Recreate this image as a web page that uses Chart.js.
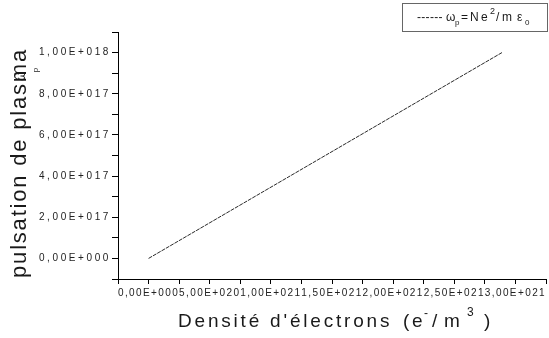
<!DOCTYPE html>
<html>
<head>
<meta charset="utf-8">
<script src="https://cdn.jsdelivr.net/npm/chart.js@4/dist/chart.umd.min.js"></script>
<style>
  html, body { margin: 0; padding: 0; background: #fff; }
  #wrap { width: 549px; height: 338px; position: relative; }
</style>
</head>
<body>
<div id="wrap"><canvas id="c" width="549" height="338"></canvas></div>
<script>
// Electron density N (e-/m^3) and plasma pulsation values
const densities = [0, 2.89e21];
const pulsations = [0, 1.0e18];

// Labelled tick values on each axis
const xTickLabels = [0, 5e20, 1e21, 1.5e21, 2e21, 2.5e21, 3e21];
const yTickLabels = [0, 2e17, 4e17, 6e17, 8e17, 1e18];

// Axis extents and tick steps (minor ticks included)
const xRange = [-2.5e20, 3.25e21];
const yRange = [-1e17, 1.1e18];
const xStep = 2.5e20;
const yStep = 1e17;

const yTitle = 'pulsation de plasma';
const xTitle = "Densité d'électrons";

// "1,00E+018" style formatting
function sci(v) {
  if (Math.abs(v) < 1) return '0,00E+000';
  let e = Math.floor(Math.log10(Math.abs(v)) + 1e-9);
  let m = v / Math.pow(10, e);
  return m.toFixed(2).replace('.', ',') + 'E+' + String(e).padStart(3, '0');
}
function labelFor(list, v, step) {
  return list.some(t => Math.abs(t - v) < step * 0.01) ? sci(v) : '';
}

const FONT = 'Arial, "Liberation Sans", sans-serif';
const labelSpacing = { x: '1.4px', y: '2.6px' };

// Letter-spaced tick labels, one spacing per axis
const spacingPlugin = {
  id: 'spacing',
  afterLayout(chart) {
    for (const id of ['x', 'y']) {
      const scale = chart.scales[id];
      if (!scale || scale._spaced) continue;
      const orig = scale.drawLabels;
      scale.drawLabels = function (area) {
        const ctx = this.ctx;
        const prev = ctx.letterSpacing;
        ctx.letterSpacing = labelSpacing[id];
        orig.call(this, area);
        ctx.letterSpacing = prev;
      };
      scale._spaced = true;
    }
  }
};

// Axis titles and the formula legend box
const annotations = {
  id: 'annotations',
  afterDraw(chart) {
    const ctx = chart.ctx;
    ctx.save();
    ctx.fillStyle = '#1a1a1a';
    ctx.textBaseline = 'alphabetic';

    // Y title (rotated)
    ctx.save();
    ctx.translate(26, 163);
    ctx.rotate(-Math.PI / 2);
    ctx.font = '22px ' + FONT;
    ctx.letterSpacing = '1.8px';
    ctx.textAlign = 'center';
    ctx.fillText(yTitle, 0, 0);
    ctx.restore();
    // stray omega_p overlapping the title
    ctx.save();
    ctx.translate(25, 76);
    ctx.rotate(-Math.PI / 2);
    ctx.font = '12px ' + FONT;
    ctx.textAlign = 'center';
    ctx.fillText('\u03c9', 0, 0);
    ctx.restore();
    ctx.save();
    ctx.translate(38, 70);
    ctx.rotate(-Math.PI / 2);
    ctx.font = '8px ' + FONT;
    ctx.textAlign = 'center';
    ctx.fillText('p', 0, 0);
    ctx.restore();

    // X title
    ctx.font = '19px ' + FONT;
    ctx.letterSpacing = '2.8px';
    ctx.textAlign = 'left';
    ctx.fillText(xTitle, 178, 327);
    ctx.letterSpacing = '0px';
    ctx.fillText('(', 403, 327);
    ctx.fillText('e', 412, 327);
    ctx.fillText('/', 432, 327);
    ctx.fillText('m', 444, 327);
    ctx.fillText(')', 484, 327);
    ctx.font = '12px ' + FONT;
    ctx.fillText('-', 424, 317);
    ctx.fillText('3', 467, 316);

    // Legend box
    ctx.strokeStyle = '#666';
    ctx.lineWidth = 1;
    ctx.strokeRect(402.5, 3.5, 145, 28);
    ctx.font = '12px ' + FONT;
    ctx.letterSpacing = '0.3px';
    ctx.fillText('------', 417, 21);
    ctx.letterSpacing = '0px';
    ctx.fillText('\u03c9', 446, 21);
    ctx.fillText('=', 461, 21);
    ctx.fillText('N', 470, 21);
    ctx.fillText('e', 481, 21);
    ctx.fillText('/', 496, 21);
    ctx.fillText('m', 502, 21);
    ctx.fillText('\u03b5', 517, 21);
    ctx.font = '8px ' + FONT;
    ctx.fillText('p', 455, 25);
    ctx.fillText('0', 525, 25);
    ctx.font = '9px ' + FONT;
    ctx.fillText('2', 490, 14);
    ctx.restore();
  }
};

new Chart(document.getElementById('c'), {
  type: 'line',
  data: {
    datasets: [{
      data: densities.map((x, i) => ({ x, y: pulsations[i] })),
      borderColor: '#2a2a2a',
      borderWidth: 1,
      borderDash: [4, 1],
      pointRadius: 0,
      tension: 0,
      fill: false
    }]
  },
  options: {
    responsive: false,
    animation: false,
    layout: { padding: { top: 32, right: 0, left: 0, bottom: 0 } },
    plugins: { legend: { display: false }, tooltip: { enabled: false } },
    scales: {
      x: {
        type: 'linear',
        min: xRange[0], max: xRange[1],
        afterFit: s => { s.height = 59; },
        border: { display: true, color: '#000', width: 1 },
        grid: { display: true, drawOnChartArea: false, drawTicks: true, tickLength: 5, color: '#000' },
        ticks: {
          stepSize: xStep, autoSkip: false, maxRotation: 0, minRotation: 0,
          padding: 3, color: '#222',
          font: { family: FONT, size: 10 },
          callback: v => labelFor(xTickLabels, v, xStep)
        }
      },
      y: {
        type: 'linear',
        min: yRange[0], max: yRange[1],
        afterFit: s => { s.width = 118; },
        border: { display: true, color: '#000', width: 1 },
        grid: { display: true, drawOnChartArea: false, drawTicks: true, tickLength: 6, color: '#000' },
        ticks: {
          stepSize: yStep, autoSkip: false, padding: 1, color: '#222',
          font: { family: FONT, size: 10 },
          callback: v => labelFor(yTickLabels, v, yStep)
        }
      }
    }
  },
  plugins: [spacingPlugin, annotations]
});
</script>
</body>
</html>
